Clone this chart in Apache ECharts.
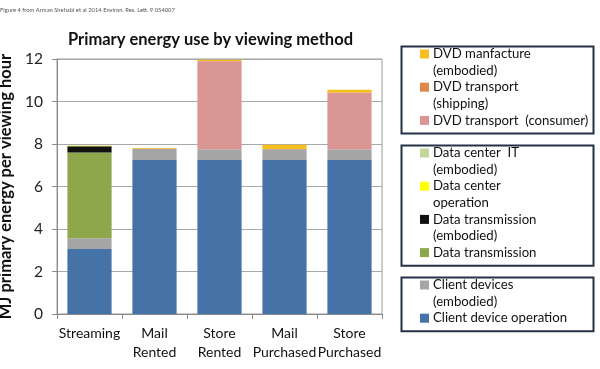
<!DOCTYPE html>
<html><head><meta charset="utf-8">
<script src="https://cdn.jsdelivr.net/npm/echarts@6/dist/echarts.min.js"></script>
<style>html,body{margin:0;padding:0;background:#fff}#c{width:600px;height:369px}</style>
</head><body><div id="c"></div>
<script>
const categories = ['Streaming', 'Mail\nRented', 'Store\nRented', 'Mail\nPurchased', 'Store\nPurchased'];
const yTicks = [0, 2, 4, 6, 8, 10, 12];
// stacked from bottom to top
const clientOperation   = [3.06, 7.25, 7.25, 7.25, 7.25];
const clientEmbodied    = [0.50, 0.52, 0.50, 0.50, 0.50];
const dataTransmission  = [4.04, 0, 0, 0, 0];
const dataTransEmbodied = [0.30, 0, 0, 0, 0];
const dcOperation       = [0.02, 0, 0, 0, 0];
const dcIT              = [0.01, 0, 0, 0, 0];
const dvdConsumer       = [0, 0, 4.15, 0, 2.66];
const dvdShipping       = [0, 0.01, 0.01, 0.02, 0.01];
const dvdManufacture    = [0, 0.03, 0.05, 0.19, 0.13];

const seriesNames = ['Client device operation', 'Client devices (embodied)', 'Data transmission',
  'Data transmission (embodied)', 'Data center operation', 'Data center IT (embodied)',
  'DVD transport (consumer)', 'DVD transport (shipping)', 'DVD manfacture (embodied)'];
const seriesData = [clientOperation, clientEmbodied, dataTransmission, dataTransEmbodied,
  dcOperation, dcIT, dvdConsumer, dvdShipping, dvdManufacture];
const seriesColors = ['#4572A7', '#A5A5A5', '#8EA74B', '#111111', '#FFFF00', '#C3D69B',
  '#D99694', '#DB8A4C', '#F6BE1E'];
// legend groups (top to bottom), each entry: series index and displayed lines
const legendGroups = [
  [[8, ['DVD manfacture', '(embodied)']], [7, ['DVD transport', '(shipping)']], [6, ['DVD transport  (consumer)']]],
  [[5, ['Data center  IT', '(embodied)']], [4, ['Data center', 'operation']], [3, ['Data transmission', '(embodied)']], [2, ['Data transmission']]],
  [[1, ['Client devices', '(embodied)']], [0, ['Client device operation']]]
];

const FONT = 'Lato';
const chart = echarts.init(document.getElementById('c'), null, {renderer: 'canvas'});

const graphics = [];
const boxTops = [44, 143, 275];
const lineH = 16.6;
legendGroups.forEach((grp, gi) => {
  let nLines = 0;
  grp.forEach(it => nLines += it[1].length);
  const top = boxTops[gi];
  const h = nLines * lineH + 4;
  graphics.push({type: 'rect', left: 399, top: top, shape: {width: 192, height: h},
    style: {fill: 'none', stroke: '#243247', lineWidth: 2}});
  let y = top + 10;
  grp.forEach(it => {
    const [si, lines] = it;
    graphics.push({type: 'rect', left: 420, top: y - 4.5, shape: {width: 9, height: 9},
      style: {fill: seriesColors[si]}});
    graphics.push({type: 'text', left: 433, top: y - lineH / 2,
      style: {text: lines.join('\n'), font: '13.2px ' + FONT, fill: '#111', lineHeight: lineH}});
    y += lines.length * lineH;
  });
});

chart.setOption({
  animation: false,
  title: [
    {text: 'Primary energy use by viewing method', left: 63, top: 26,
      textStyle: {fontFamily: FONT, fontSize: 16.5, fontWeight: 'bold', color: '#111'}},
    {text: 'Figure 4 from Arman Shehabi et al 2014 Environ. Res. Lett. 9 054007', left: -5, top: 2,
      textStyle: {fontFamily: FONT, fontSize: 5.8, fontWeight: 'normal', color: '#555'}}
  ],
  grid: {left: 57, right: 218, top: 59, bottom: 55, show: true, borderColor: '#9a9a9a', borderWidth: 1,
    containLabel: false, outerBoundsMode: 'none'},
  xAxis: {
    type: 'category', data: categories,
    axisLine: {lineStyle: {color: '#8a8a8a'}},
    axisTick: {show: true, length: 5, lineStyle: {color: '#8a8a8a'}},
    axisLabel: {fontFamily: FONT, fontSize: 14, color: '#111', lineHeight: 19, margin: 10, interval: 0}
  },
  yAxis: {
    type: 'value', min: yTicks[0], max: yTicks[yTicks.length - 1], interval: 2,
    name: 'MJ primary energy per viewing hour', nameLocation: 'middle', nameGap: 38,
    nameTextStyle: {fontFamily: FONT, fontSize: 16.5, fontWeight: 'bold', color: '#111'},
    axisLine: {show: true, lineStyle: {color: '#8a8a8a'}},
    axisTick: {show: true, length: 5, lineStyle: {color: '#8a8a8a'}},
    axisLabel: {fontFamily: FONT, fontSize: 15.5, color: '#222', margin: 14},
    splitLine: {lineStyle: {color: '#a8a8a8', width: 1}}
  },
  series: seriesData.map((d, i) => ({
    type: 'bar', name: seriesNames[i], stack: 'total', data: d, barWidth: '68%',
    itemStyle: {color: seriesColors[i]}
  })),
  graphic: graphics
});
</script></body></html>
